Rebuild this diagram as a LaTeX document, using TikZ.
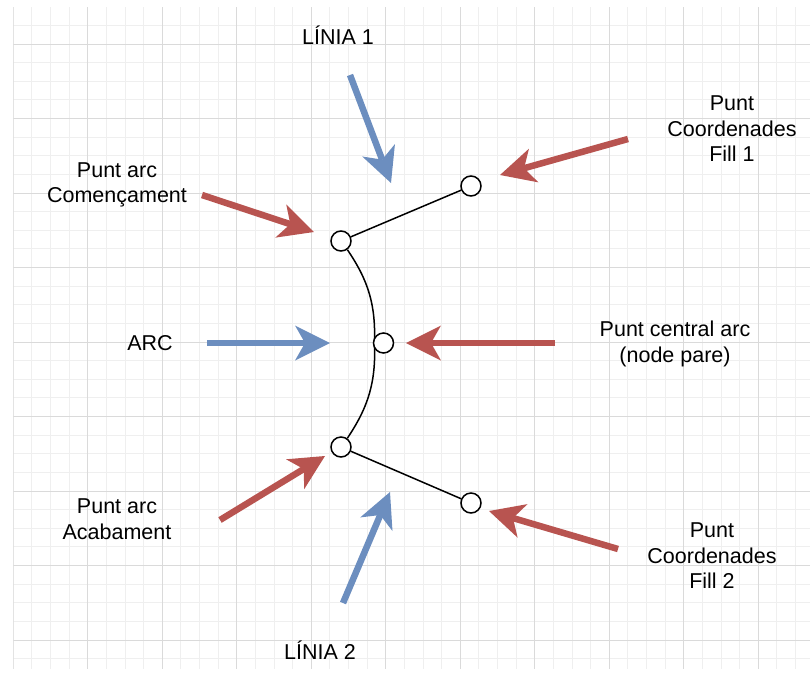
\documentclass[tikz,border=0pt]{standalone}
\usepackage{fontspec}
\setmainfont{Liberation Sans}
\usetikzlibrary{arrows.meta}

\definecolor{arrblue}{HTML}{6C8EBF}
\definecolor{arrred}{HTML}{B85450}
\definecolor{gridminor}{HTML}{EFEFEF}
\definecolor{gridmajor}{HTML}{DADADA}

\begin{document}
\begin{tikzpicture}[
    x=1pt, y=-1pt,
    lbl/.style={font=\fontsize{21.5}{25.5}\selectfont, align=center,
                inner sep=0pt, text=black},
    pnt/.style={circle, draw, line width=1.5pt, fill=white,
                minimum size=20pt, inner sep=0pt},
    link/.style={line width=1.5pt},
    arr/.style={draw=#1, line width=6.5pt,
                -{Stealth[length=35pt, width=35pt, inset=10pt, line width=0pt]}}
]
\useasboundingbox (0,0) rectangle (810,675);

% grid
\begin{scope}
\clip (13.3,7) rectangle (810,668);
\foreach \i in {0,...,43}
    \draw[gridminor, line width=1pt] ({13.3+18.625*\i},0) -- ({13.3+18.625*\i},675);
\foreach \i in {-2,...,34}
    \draw[gridminor, line width=1pt] (0,{44+18.625*\i}) -- (810,{44+18.625*\i});
\foreach \i in {0,...,10}
    \draw[gridmajor, line width=1pt] ({13.3+74.5*\i},0) -- ({13.3+74.5*\i},675);
\foreach \i in {0,...,8}
    \draw[gridmajor, line width=1pt] (0,{44+74.5*\i}) -- (810,{44+74.5*\i});
\end{scope}

% points
\coordinate (arcbulge) at (374.5,343);
\node[pnt] (arcstart) at (341,241) {};
\node[pnt] (fill1)    at (471,186) {};
\node[pnt] (arcend)   at (341,447) {};
\node[pnt] (fill2)    at (471,503) {};

\draw[link] (arcstart) -- (fill1);
\draw[link] (arcend) -- (fill2);
\draw[link] (arcstart) to[bend left=18] (arcbulge) to[bend left=18] (arcend);

\node[pnt] (arcmid) at (383.5,343) {};

% labels
\node[lbl] (linia1)   at (338,35)  {LÍNIA 1};
\node[lbl] (comenc)   at (117,185) {Punt arc\\Començament};
\node[lbl] (coord1)   at (732,129) {Punt\\Coordenades\\Fill 1};
\node[lbl] (arclbl)   at (150,343) {ARC};
\node[lbl] (central)  at (675,344) {Punt central arc\\(node pare)};
\node[lbl] (acab)     at (117,519) {Punt arc\\Acabament};
\node[lbl] (coord2)   at (712,556) {Punt\\Coordenades\\Fill 2};
\node[lbl] (linia2)   at (320,650) {LÍNIA 2};

% arrow ends
\coordinate (l1tail) at (350,75);  \coordinate (l1tip) at (391,183);
\coordinate (f1tail) at (628,139); \coordinate (f1tip) at (500,175);
\coordinate (cmtail) at (202,195); \coordinate (cmtip) at (314,232);
\coordinate (actail) at (207,343); \coordinate (actip) at (330,343);
\coordinate (cetail) at (555,343); \coordinate (cetip) at (406,343);
\coordinate (abtail) at (220,520); \coordinate (abtip) at (325,456);
\coordinate (l2tail) at (343,603); \coordinate (l2tip) at (390,492);
\coordinate (f2tail) at (618,549); \coordinate (f2tip) at (489,511);

\draw[arr=arrblue] (l1tail) -- (l1tip);
\draw[arr=arrred]  (f1tail) -- (f1tip);
\draw[arr=arrred]  (cmtail) -- (cmtip);
\draw[arr=arrblue] (actail) -- (actip);
\draw[arr=arrred]  (cetail) -- (cetip);
\draw[arr=arrred]  (abtail) -- (abtip);
\draw[arr=arrblue] (l2tail) -- (l2tip);
\draw[arr=arrred]  (f2tail) -- (f2tip);
\end{tikzpicture}
\end{document}
